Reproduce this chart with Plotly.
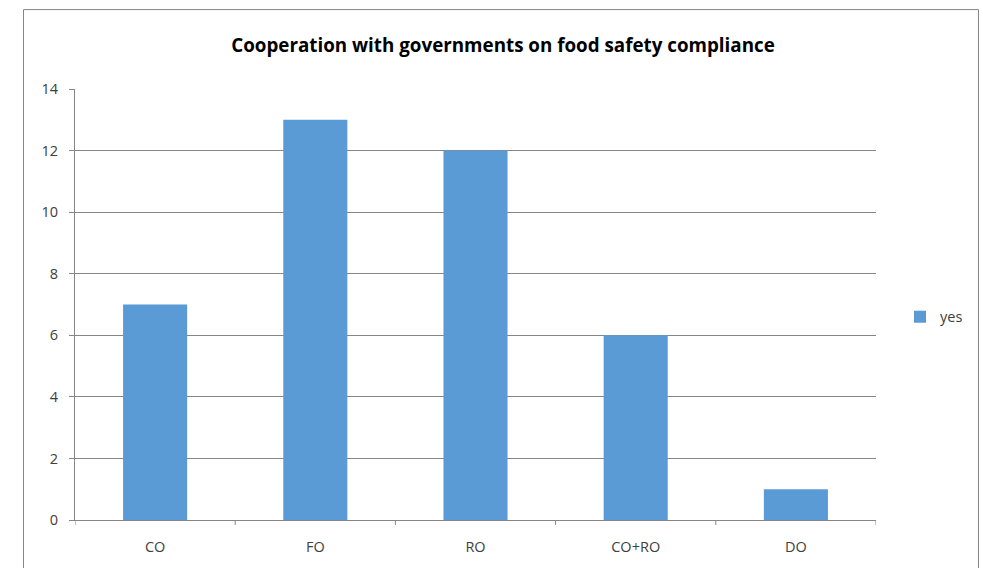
import plotly.graph_objects as go

categories = ["CO", "FO", "RO", "CO+RO", "DO"]
values = [7, 13, 12, 6, 1]
series_name = "yes"
title_text = "Cooperation with governments on food safety compliance"
y_ticks = [0, 2, 4, 6, 8, 10, 12, 14]

W, H = 983, 568
L, R, T, B = 75, 876, 89, 520.5
pw, ph = R - L, B - T

fig = go.Figure()
fig.add_trace(go.Bar(x=categories, y=values, name=series_name,
                     marker=dict(color="#5B9BD5", line=dict(width=0)),
                     width=0.4))

fig.update_layout(
    width=W, height=H,
    margin=dict(l=L, r=W - R, t=T, b=H - B, pad=0, autoexpand=False),
    paper_bgcolor="white", plot_bgcolor="white",
    font=dict(family="Open Sans", size=14, color="#404040"),
    title=dict(text="<b>" + title_text + "</b>", x=503 / W, xanchor="center",
               y=1 - 45 / H, yanchor="middle",
               font=dict(family="Open Sans", size=18.8, color="#000000")),
    showlegend=True,
    legend=dict(x=(900 - L) / pw, y=(B - 317) / ph, xanchor="left", yanchor="middle",
                font=dict(size=14.5, color="#404040"), itemwidth=30,
                bgcolor="rgba(0,0,0,0)"),
    xaxis=dict(showline=True, linecolor="#868686", linewidth=1,
               ticks="", showgrid=False, tickfont=dict(size=14.5, color="#404040"),
               ticklabelstandoff=14, range=[-0.5, 4.5]),
    yaxis=dict(range=[0, 14], tickvals=y_ticks, showgrid=True, gridcolor="#868686",
               gridwidth=1, showline=True, linecolor="#868686", linewidth=1,
               ticks="outside", ticklen=5, tickcolor="#868686",
               tickfont=dict(size=14.5, color="#404040"), ticklabelstandoff=8,
               zeroline=False),
)

# category boundary tick marks on x axis
for i in range(len(categories) + 1):
    fig.add_shape(type="line", xref="x", yref="paper",
                  x0=i - 0.5, x1=i - 0.5, y0=0, y1=-5 / ph,
                  line=dict(color="#868686", width=1))

# chart border
fig.add_shape(type="rect", xref="paper", yref="paper",
              x0=(23.5 - L) / pw, x1=(978.5 - L) / pw,
              y0=(B - 575) / ph, y1=(B - 9.5) / ph,
              line=dict(color="#868686", width=1), fillcolor="rgba(0,0,0,0)",
              layer="below")

fig.write_html("out.html", config={"displayModeBar": False},
               post_script="document.body.style.margin='0';document.body.style.overflow='hidden';")
